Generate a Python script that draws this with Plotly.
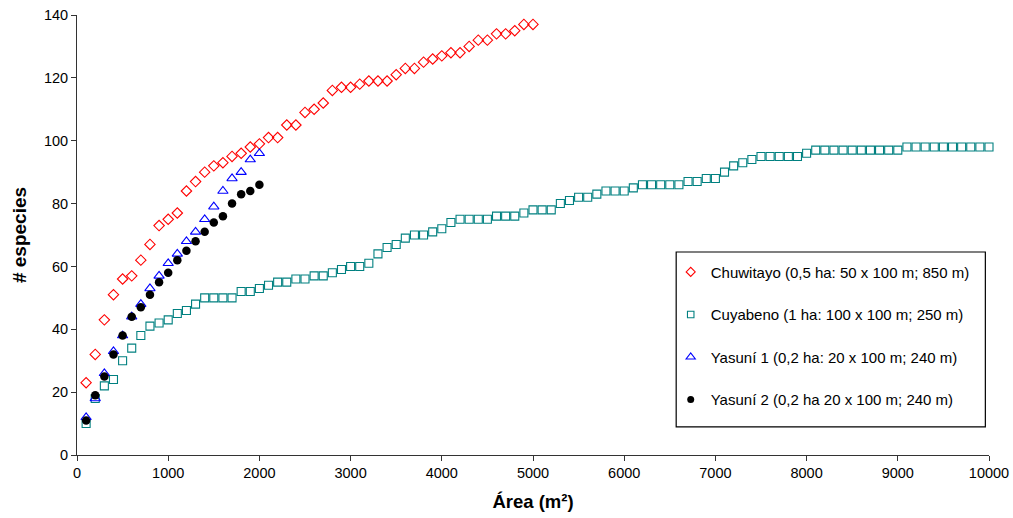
import plotly.graph_objects as go

# Species-area curves for four forest plots
area_chuwitayo = list(range(100, 5001, 100))
sp_chuwitayo = [23, 32, 43, 51, 56, 57, 62, 67, 73, 75,
                77, 84, 87, 90, 92, 93, 95, 96, 98, 99,
                101, 101, 105, 105, 109, 110, 112, 116, 117, 117,
                118, 119, 119, 119, 121, 123, 123, 125, 126, 127,
                128, 128, 130, 132, 132, 134, 134, 135, 137, 137]

area_cuyabeno = list(range(100, 10001, 100))
sp_cuyabeno = [10, 18, 22, 24, 30, 34, 38, 41, 42, 43,
               45, 46, 48, 50, 50, 50, 50, 52, 52, 53,
               54, 55, 55, 56, 56, 57, 57, 58, 59, 60,
               60, 61, 64, 66, 67, 69, 70, 70, 71, 72,
               74, 75, 75, 75, 75, 76, 76, 76, 77, 78,
               78, 78, 80, 81, 82, 82, 83, 84, 84, 84,
               85, 86, 86, 86, 86, 86, 87, 87, 88, 88,
               90, 92, 93, 94, 95, 95, 95, 95, 95, 96,
               97, 97, 97, 97, 97, 97, 97, 97, 97, 97,
               98, 98, 98, 98, 98, 98, 98, 98, 98, 98]

area_yasuni1 = list(range(100, 2001, 100))
sp_yasuni1 = [12, 18, 26, 33, 38, 44, 48, 53, 57, 61,
              64, 68, 71, 75, 79, 84, 88, 90, 94, 96]

area_yasuni2 = list(range(100, 2001, 100))
sp_yasuni2 = [11, 19, 25, 32, 38, 44, 47, 51, 55, 58,
              62, 65, 68, 71, 74, 76, 80, 83, 84, 86]

x_ticks = [0, 1000, 2000, 3000, 4000, 5000, 6000, 7000, 8000, 9000, 10000]
y_ticks = [0, 20, 40, 60, 80, 100, 120, 140]

names = ["Chuwitayo (0,5 ha: 50 x 100 m; 850 m)",
         "Cuyabeno (1 ha: 100 x 100 m; 250 m)",
         "Yasuní 1 (0,2 ha: 20 x 100 m; 240 m)",
         "Yasuní 2 (0,2 ha 20 x 100 m; 240 m)"]

FONT = "Liberation Sans, Arial, sans-serif"

RED, TEAL, BLUE, BLACK = "#FF0000", "#008080", "#0000FF", "#000000"

series = [
    # (x, y, name, symbol, size, colour, group)
    (area_cuyabeno, sp_cuyabeno, names[1], "square-open", 8, TEAL, "b"),
    (area_chuwitayo, sp_chuwitayo, names[0], "diamond-open", 8, RED, "a"),
    (area_yasuni1, sp_yasuni1, names[2], "triangle-up-open", 9, BLUE, "c"),
    (area_yasuni2, sp_yasuni2, names[3], "circle", 8.5, BLACK, "d"),
]

fig = go.Figure()

for xs, ys, nm, sym, sz, col, grp in series:
    fig.add_trace(go.Scatter(
        x=xs, y=ys, mode="markers", name=nm, legendgroup=grp,
        showlegend=False, cliponaxis=False,
        marker=dict(symbol=sym, size=sz, color=col,
                    line=dict(width=1.1 if "open" in sym else 0, color=col))))

# Legend entries with smaller key symbols
legend_keys = [(names[0], "diamond-open", 7, RED, "a", 1),
               (names[1], "square-open", 6.5, TEAL, "b", 2),
               (names[2], "triangle-up-open", 8, BLUE, "c", 3),
               (names[3], "circle", 7, BLACK, "d", 4)]
for nm, sym, sz, col, grp, rank in legend_keys:
    fig.add_trace(go.Scatter(
        x=[None], y=[None], mode="markers", name=nm, legendgroup=grp,
        legendrank=rank, showlegend=True,
        marker=dict(symbol=sym, size=sz, color=col,
                    line=dict(width=1.1 if "open" in sym else 0, color=col))))

# Framed legend box
fig.add_shape(type="rect", xref="paper", yref="paper",
              x0=0.657, x1=0.996, y0=0.064, y1=0.4614,
              line=dict(color="#000000", width=1.2), fillcolor="white",
              layer="below")

fig.update_layout(
    width=1013, height=518,
    margin=dict(l=77, r=24, t=15, b=63, autoexpand=False),
    paper_bgcolor="white", plot_bgcolor="white",
    font=dict(family=FONT, size=14, color="#000000"),
    showlegend=True,
    legend=dict(x=0.651, y=0.453, xanchor="left", yanchor="top",
                bgcolor="rgba(0,0,0,0)", borderwidth=0,
                traceorder="grouped", tracegroupgap=20,
                itemwidth=30,
                font=dict(family=FONT, size=15, color="#000000")),
    xaxis=dict(range=[0, 10000], tickvals=x_ticks,
               ticktext=[str(v) for v in x_ticks],
               automargin=False,
               showgrid=False, zeroline=False,
               showline=True, linecolor="#333333", linewidth=1,
               ticks="outside", ticklen=5, tickcolor="#333333",
               tickfont=dict(family=FONT, size=14.5),
               title=dict(text="<b>Área (m²)</b>",
                          font=dict(family=FONT, size=18.5), standoff=14)),
    yaxis=dict(range=[0, 140], tickvals=y_ticks,
               automargin=False,
               showgrid=False, zeroline=False,
               showline=True, linecolor="#333333", linewidth=1,
               ticks="outside", ticklen=5, tickcolor="#333333",
               tickfont=dict(family=FONT, size=14.5),
               title=dict(text="<b># especies</b>",
                          font=dict(family=FONT, size=19), standoff=12)),
)

fig.write_html("out.html")
